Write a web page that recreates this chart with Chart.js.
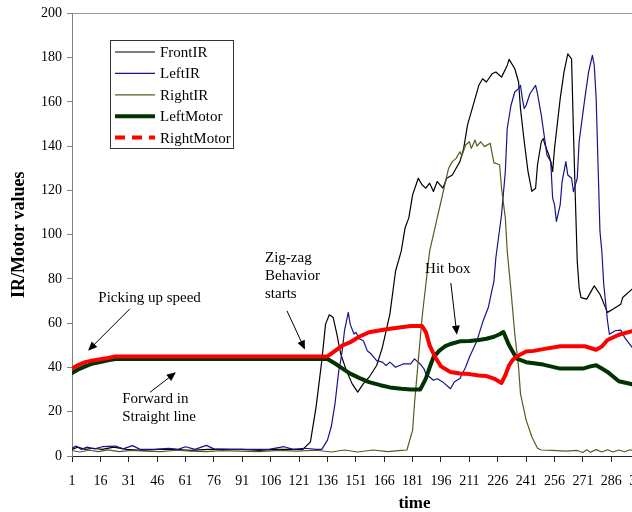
<!DOCTYPE html>
<html>
<head>
<meta charset="utf-8">
<script src="https://cdn.jsdelivr.net/npm/chart.js@4.4.1/dist/chart.umd.min.js"></script>
<style>
  html, body { margin: 0; padding: 0; background: #fff; overflow: hidden; }
  #wrap { width: 770px; height: 512px; }
</style>
</head>
<body>
<div id="wrap"><canvas id="chart" width="770" height="512"></canvas></div>
<script>
// tick labels on the time axis
const xTickLabels = [1, 16, 31, 46, 61, 76, 91, 106, 121, 136, 151, 166, 181, 196, 211, 226, 241, 256, 271, 286, 301];

// FrontIR
const frontTime = [1, 4, 8, 12, 17, 23, 30, 38, 46, 55, 64, 73, 82, 91, 100, 108, 115, 121, 123,
    127, 130, 133, 135, 137, 139, 141, 143, 146, 149, 152, 155, 158, 162, 165, 169, 172, 175, 177, 179,
    181, 184, 186, 188, 190, 192, 194, 197, 199, 202, 204, 206, 208, 210, 214, 216, 218, 220, 223, 225,
    228, 231, 232, 235, 237, 238, 240, 242, 244, 246, 247, 249, 250, 251, 253, 254, 255, 256, 259, 261,
    263, 265, 266, 267, 268, 269, 270, 273, 276, 277, 280, 284, 287, 291, 292, 297, 298];
const frontValues = [3, 4, 3, 3.5, 3, 4, 3, 2.5, 3, 3, 2.5, 3, 3, 3, 2.5, 3, 3, 3, 3,
    6.4, 22.2, 43, 59.6, 63.8, 62.6, 55, 46.2, 38.6, 32.7, 28.9, 32.7, 35.6, 40.9, 49, 64.1, 83.6, 92.6, 103, 107.6,
    118, 125.5, 122.5, 121, 123.3, 119.5, 124, 121, 125.5, 127, 130, 133, 139, 149.5, 161.5, 167.5, 170.5, 169, 172.7, 173.5,
    171.2, 176.5, 179.2, 175, 169, 157, 142, 128.5, 119.6, 121, 131.5, 142, 143.5, 140.5, 136, 133, 128.5, 139, 161.5, 173.5,
    181.7, 179.5, 146.5, 116.5, 88, 76, 71.6, 70.9, 75.4, 76.9, 73.1, 64.9, 66.4, 68.6, 71.6, 75.4, 76];

// LeftIR
const leftTime = [1, 3, 6, 9, 13, 17, 24, 28, 33, 37, 45, 52, 57, 61, 66, 72, 76, 85, 95, 105, 113, 118, 124, 130, 133,
    136, 138, 140, 142, 143, 144, 145, 147, 148, 150, 151, 153, 155, 157, 159, 162, 165, 167, 169, 172, 176, 180, 182,
    185, 187, 188, 192, 194, 197, 201, 203, 206, 209, 211, 215, 218, 221, 224, 225, 228, 230, 231, 233, 235, 237, 238,
    239, 240, 241, 243, 246, 247, 249, 251, 252, 254, 255, 256, 257, 259, 260, 262, 263, 265, 266, 268, 269, 272, 274,
    276, 277, 278, 279, 280, 281, 282, 284, 285, 288, 291, 293, 297, 298];
const leftValues = [3.5, 4.5, 3, 4, 3.2, 4.2, 4.5, 3.2, 4.7, 3, 3, 3.5, 3, 4.2, 3, 4.8, 3.2, 3, 3, 3, 4.2, 3, 3.5, 3, 3,
    7.2, 13.2, 23.7, 38.7, 43.1, 49, 56.6, 64.9, 59.6, 55.1, 55.9, 52.9, 52.1, 47.6, 46.2, 43.1, 42.4, 40.9, 42.4, 40.1, 41.6, 41.6, 43.9,
    41.6, 39.4, 37.2, 34.2, 34.9, 33.4, 30.4, 33.4, 35, 40.1, 44.6, 52.1, 60.4, 67.1, 79.1, 89.6, 109, 128.5, 148, 158.5, 164.5, 166, 167.5,
    161.5, 157, 158.5, 163.7, 167.5, 163.7, 154, 142, 136, 133, 116.5, 113.6, 106, 113.6, 124, 133, 127, 125.5, 119.5, 125.5, 142, 161.5, 173.5,
    181, 176.5, 161.5, 131.5, 101.6, 92.6, 77.6, 61, 55, 56.6, 56.9, 53.6, 49.1, 48.5];

// RightIR
const rightTime = [1, 5, 10, 15, 20, 26, 32, 40, 48, 56, 64, 72, 80, 90, 100, 110, 120, 130, 138, 145, 152, 160, 168, 175, 178,
    181, 182, 184, 186, 188, 190, 192, 194, 196, 198, 200, 202, 204, 206, 207, 209, 211, 212, 214, 215, 217, 219, 222,
    224, 225, 227, 228, 230, 231, 233, 235, 237, 238, 241, 244, 247, 249,
    255, 262, 268, 271, 273, 275, 278, 281, 284, 287, 290, 293, 296, 298];
const rightValues = [2.5, 1.8, 2.6, 2, 2.8, 2, 2.5, 2.2, 2, 2.6, 2.2, 2, 2.4, 2.2, 2, 2.5, 2.2, 2.6, 1.8, 2.7, 1.8, 2.7, 2, 2.5, 2.7,
    11.7, 23.7, 43.1, 62.6, 77.6, 92.6, 100, 107.6, 115, 122.5, 130, 133, 134.5, 137.5, 135.5, 140.5, 142, 139, 142.8, 140, 142, 139.8, 141.3,
    132.3, 132.3, 131.5, 121, 107.6, 92.6, 74.6, 55.1, 40.1, 28.2, 16.2, 8.7, 3.5, 2.7,
    2.5, 2.2, 2.5, 1.6, 2.8, 1.7, 2.9, 1.8, 2.8, 1.8, 2.7, 1.9, 2.8, 2.2];

// LeftMotor
const leftMotorTime = [1, 4, 8, 12, 16, 20, 24, 136, 140, 144, 148, 153, 158, 164, 169, 175, 180,
    185, 188, 190, 192, 195, 198, 201, 206, 211, 216, 220, 224, 227, 229, 232, 236, 241, 250, 259, 271,
    275, 278, 281, 284, 290, 297, 298];
const leftMotorValues = [37.5, 39, 40.5, 41.8, 42.5, 43.2, 43.8, 43.8, 41.8, 39.5, 37.2, 35.2, 33.4, 32, 31, 30.4, 30,
    30, 35, 40, 44.6, 47.5, 49.5, 50.6, 51.8, 52, 52.4, 53, 53.9, 55, 56, 50, 44, 42.4, 41.3, 39.5, 39.5,
    40.5, 41, 39.5, 38, 33.8, 32.4, 32.3];

// RightMotor
const rightMotorTime = [1, 4, 8, 12, 16, 20, 24, 136, 140, 144, 148, 153, 158, 164, 169, 175, 180,
    186, 188, 190, 193, 196, 201, 206, 211, 216, 220, 224, 228, 230, 232, 234, 236, 241, 245, 250, 259,
    272, 278, 281, 284, 290, 297, 298];
const rightMotorValues = [39.5, 41, 42.4, 43.2, 43.7, 44.3, 45, 45, 47.5, 50, 51.4, 54, 55.9, 56.8, 57.5, 58.2, 58.7,
    58.7, 56, 50, 44.5, 40.5, 38, 37.3, 37, 36.4, 36.1, 35, 33, 36.5, 41, 43.5, 45, 47.2, 47.5, 48.3, 49.6,
    49.6, 48, 49.5, 52.4, 54.8, 56.4, 56.6];

// callouts, anchored in data units (time, value)
const notes = [
    { lines: ['Picking up speed'], t: 42, v: 71.5, align: 'center' },
    { lines: ['Forward in', 'Straight line'], t: 27.5, v: 25.6, align: 'left' },
    { lines: ['Zig-zag', 'Behavior', 'starts'], t: 103, v: 89.4, align: 'left' },
    { lines: ['Hit box'], t: 199.6, v: 84.5, align: 'center' }
];
const arrows = [
    { from: [31.6, 66.5], to: [9.5, 47.6] },
    { from: [42.2, 28.8], to: [55.9, 37.8] },
    { from: [114.6, 65.6], to: [124.1, 48.1] },
    { from: [201.2, 78.2], to: [204.4, 54.8] }
];

const serif = "'Liberation Serif', 'Times New Roman', serif";

const toPoints = (times, values) => times.map((t, i) => ({ x: t, y: values[i] }));

const drawArrow = (ctx, x1, y1, x2, y2) => {
    const ang = Math.atan2(y2 - y1, x2 - x1);
    const head = 9;
    ctx.beginPath();
    ctx.moveTo(x1, y1);
    ctx.lineTo(x2 - Math.cos(ang) * head * 0.8, y2 - Math.sin(ang) * head * 0.8);
    ctx.lineWidth = 1;
    ctx.strokeStyle = '#000';
    ctx.stroke();
    ctx.beginPath();
    ctx.moveTo(x2, y2);
    ctx.lineTo(x2 - head * Math.cos(ang) + 4 * Math.sin(ang), y2 - head * Math.sin(ang) - 4 * Math.cos(ang));
    ctx.lineTo(x2 - head * Math.cos(ang) - 4 * Math.sin(ang), y2 - head * Math.sin(ang) + 4 * Math.cos(ang));
    ctx.closePath();
    ctx.fillStyle = '#000';
    ctx.fill();
};

const notesPlugin = {
    id: 'notes',
    afterDraw(chart) {
        const { ctx } = chart;
        const x = chart.scales.x;
        const y = chart.scales.y;
        ctx.save();

        ctx.font = `15px ${serif}`;
        ctx.fillStyle = '#000';
        ctx.textBaseline = 'middle';
        notes.forEach(n => {
            ctx.textAlign = n.align;
            n.lines.forEach((line, i) => {
                ctx.fillText(line, x.getPixelForValue(n.t), y.getPixelForValue(n.v) + i * 18);
            });
        });
        arrows.forEach(a => drawArrow(ctx,
            x.getPixelForValue(a.from[0]), y.getPixelForValue(a.from[1]),
            x.getPixelForValue(a.to[0]), y.getPixelForValue(a.to[1])));

        // legend box
        const box = { left: 110.5, top: 40.5, width: 123, height: 108 };
        ctx.fillStyle = '#fff';
        ctx.fillRect(box.left, box.top, box.width, box.height);
        ctx.strokeStyle = '#333';
        ctx.lineWidth = 1;
        ctx.strokeRect(box.left, box.top, box.width, box.height);
        ctx.font = `15px ${serif}`;
        ctx.textAlign = 'left';
        chart.data.datasets.forEach((ds, i) => {
            const rowY = 52 + i * 21.4;
            ctx.beginPath();
            ctx.setLineDash(ds.legendDash || []);
            ctx.moveTo(115, rowY);
            ctx.lineTo(155, rowY);
            ctx.strokeStyle = ds.borderColor;
            ctx.lineWidth = ds.borderWidth;
            ctx.lineCap = 'butt';
            ctx.stroke();
            ctx.setLineDash([]);
            ctx.fillStyle = '#000';
            ctx.fillText(ds.label, 160, rowY + 1);
        });
        ctx.restore();
    }
};

const chart = new Chart(document.getElementById('chart'), {
    type: 'line',
    data: {
        datasets: [
            { label: 'FrontIR', data: toPoints(frontTime, frontValues), borderColor: '#000000', borderWidth: 1.2, order: 5 },
            { label: 'LeftIR', data: toPoints(leftTime, leftValues), borderColor: '#14148c', borderWidth: 1.2, order: 4 },
            { label: 'RightIR', data: toPoints(rightTime, rightValues), borderColor: '#5a5a1e', borderWidth: 1.2, order: 3 },
            { label: 'LeftMotor', data: toPoints(leftMotorTime, leftMotorValues), borderColor: '#003300', borderWidth: 4, order: 2 },
            { label: 'RightMotor', data: toPoints(rightMotorTime, rightMotorValues), borderColor: '#ff0000', borderWidth: 4, order: 1, legendDash: [10, 7] }
        ]
    },
    options: {
        responsive: false,
        animation: false,
        events: [],
        layout: { padding: { top: 11, right: 13, bottom: 0, left: 0 } },
        elements: {
            point: { radius: 0 },
            line: { tension: 0, borderJoinStyle: 'round', borderCapStyle: 'round' }
        },
        plugins: {
            legend: { display: false },
            tooltip: { enabled: false }
        },
        scales: {
            x: {
                type: 'linear',
                min: 1,
                max: 363,
                afterFit: (scale) => { scale.height = 56; },
                afterBuildTicks: (scale) => { scale.ticks = xTickLabels.map(v => ({ value: v })); },
                border: { color: '#222', width: 1 },
                grid: { drawOnChartArea: false, color: '#222', tickLength: 6 },
                ticks: {
                    autoSkip: false,
                    maxRotation: 0,
                    padding: 11,
                    color: '#000',
                    font: { family: serif, size: 14 }
                },
                title: {
                    display: true,
                    text: 'time',
                    color: '#000',
                    padding: { top: 0, bottom: 0 },
                    font: { family: serif, size: 17, weight: 'bold', lineHeight: 1 }
                }
            },
            y: {
                min: 0,
                max: 200,
                afterFit: (scale) => { scale.width = 72; },
                border: { color: '#808080', width: 1 },
                grid: {
                    color: (ctx) => (ctx.tick && ctx.tick.value === 200 ? '#9a9a9a' : 'rgba(0,0,0,0)'),
                    tickColor: '#808080',
                    tickLength: 5
                },
                ticks: {
                    stepSize: 20,
                    padding: 5,
                    color: '#000',
                    font: { family: serif, size: 14 }
                },
                title: {
                    display: true,
                    text: 'IR/Motor values',
                    color: '#000',
                    padding: { top: 9, bottom: 0 },
                    font: { family: serif, size: 18, weight: 'bold' }
                }
            }
        }
    },
    plugins: [notesPlugin]
});
</script>
</body>
</html>
